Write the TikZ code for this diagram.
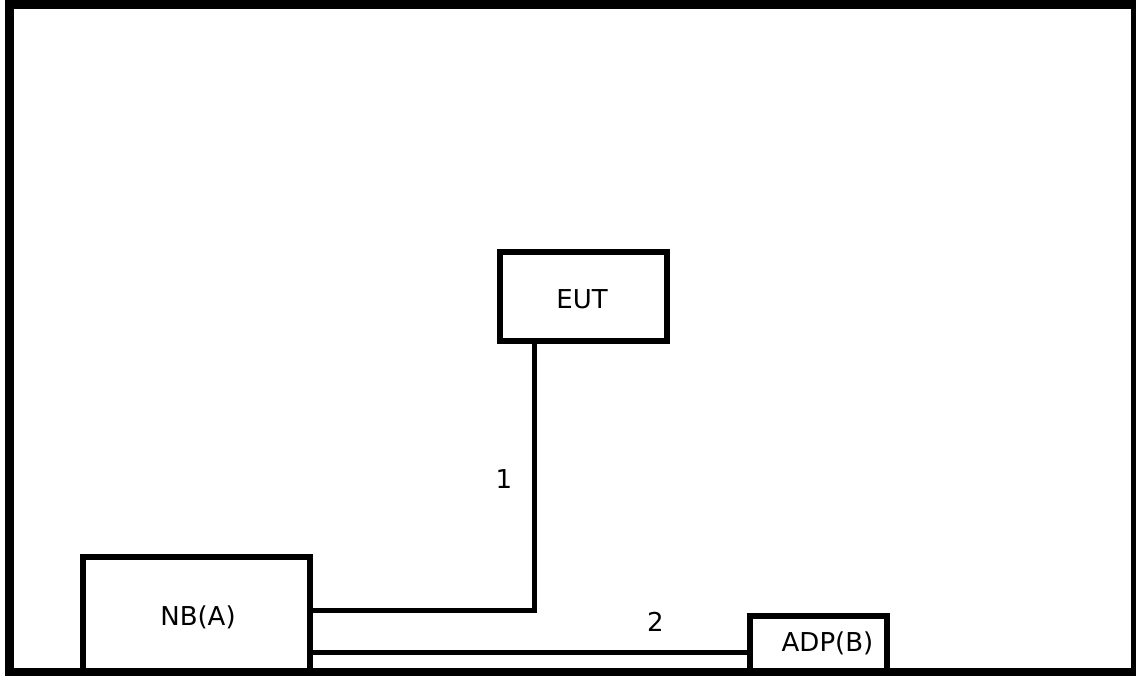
\documentclass[tikz,border=0pt]{standalone}
\usepackage{fontspec}
\setmainfont{DejaVu Sans}
\usepackage{tikz}
\usetikzlibrary{calc}

\tikzset{
  unitbox/.style={draw,line width=6pt,inner sep=0pt,outer sep=0pt},
  cable/.style={line width=5pt},
  lbl/.style={font=\fontsize{26}{30}\selectfont,inner sep=0pt}
}

\begin{document}
\begin{tikzpicture}[x=1pt,y=-1pt,line join=miter]
  \useasboundingbox (0,0) rectangle (1136,676);
  \fill[white] (0,0) rectangle (1136,676);
  \draw[line width=9pt] (9.5,5) rectangle (1135.5,672.5);
  \node[unitbox,minimum width=167pt,minimum height=89pt] (eut) at (583.5,296.5) {};
  \node[lbl] (euttext) at (582,299) {EUT};
  \node[unitbox,minimum width=227pt,minimum height=115pt] (nb) at (196.5,614.5) {};
  \node[lbl] (nbtext) at (198,617) {NB(A)};
  \node[unitbox,minimum width=137pt,minimum height=56pt] (adp) at (818.5,644) {};
  \node[lbl] (adptext) at (827.5,643) {ADP(B)};
  \coordinate (C1) at (534,610.5);
  \coordinate (C2) at (530,652);
  \draw[cable] (nb.east |- C1) -- (C1) -- (eut.south -| C1);
  \draw[cable] (nb.east |- C2) -- (adp.west |- C2);
  \node[lbl] (n1) at (504,479) {1};
  \node[lbl] (n2) at (655.5,621.5) {2};
\end{tikzpicture}
\end{document}
